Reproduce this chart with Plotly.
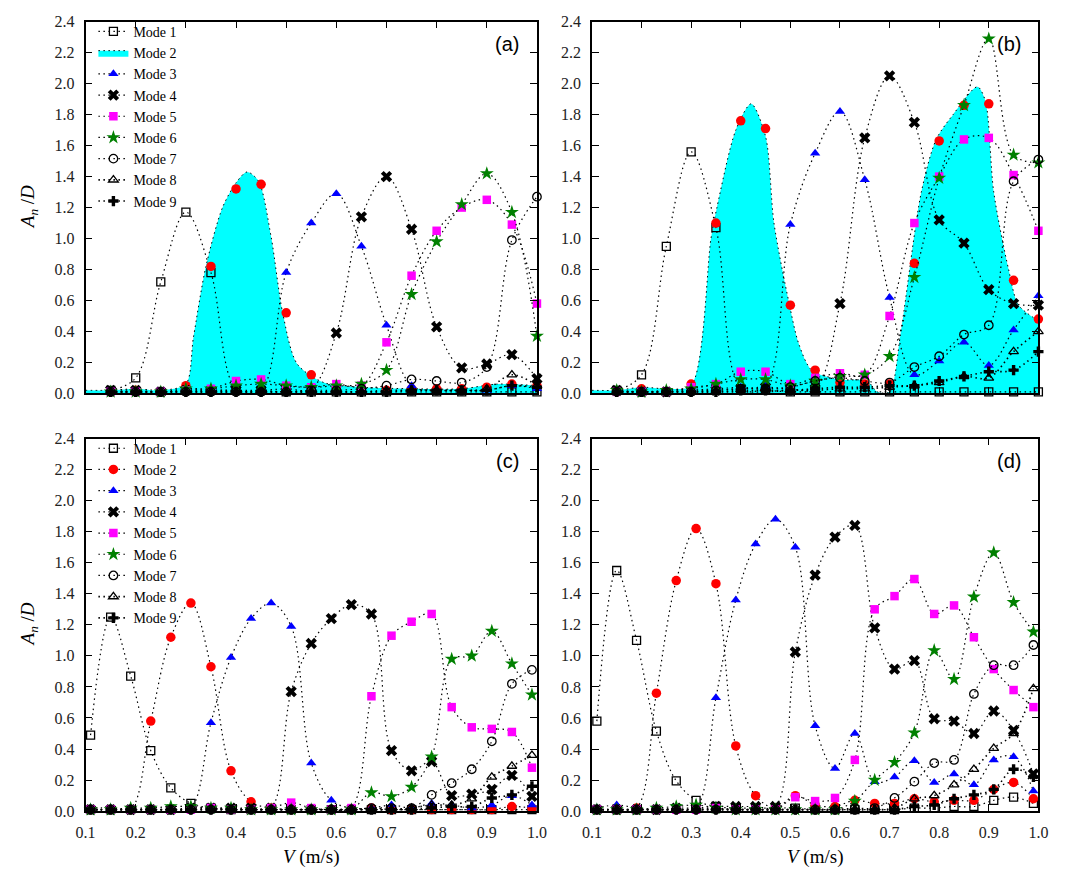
import plotly.graph_objects as go

# Flow velocity samples (m/s)
V_ab = [0.15, 0.20, 0.25, 0.30, 0.35, 0.40, 0.45, 0.50, 0.55, 0.60,
        0.65, 0.70, 0.75, 0.80, 0.85, 0.90, 0.95, 1.00]
V_cd = [0.11, 0.15, 0.19, 0.23, 0.27, 0.31, 0.35, 0.39, 0.43, 0.47, 0.51, 0.55,
        0.59, 0.63, 0.67, 0.71, 0.75, 0.79, 0.83, 0.87, 0.91, 0.95, 0.99]

# ---- panel (a): A_n/D per mode ----
a_mode1 = [0.02, 0.10, 0.72, 1.17, 0.78, 0.03, 0.02, 0.01, 0.01, 0.01, 0.01, 0.01, 0.01, 0.01, 0.01, 0.01, 0.01, 0.01]
a_mode2 = [0.01, 0.02, 0.01, 0.05, 0.82, 1.32, 1.35, 0.52, 0.12, 0.04, 0.03, 0.02, 0.03, 0.03, 0.03, 0.04, 0.06, 0.05]
a_mode3 = [0.01, 0.01, 0.01, 0.01, 0.02, 0.02, 0.02, 0.78, 1.10, 1.29, 0.95, 0.44, 0.05, 0.02, 0.02, 0.02, 0.05, 0.03]
a_mode4 = [0.02, 0.02, 0.01, 0.02, 0.02, 0.02, 0.02, 0.03, 0.03, 0.39, 1.14, 1.40, 1.06, 0.43, 0.165, 0.19, 0.25, 0.095]
a_mode5 = [0.01, 0.01, 0.01, 0.02, 0.03, 0.08, 0.09, 0.05, 0.04, 0.06, 0.05, 0.33, 0.76, 1.05, 1.20, 1.25, 1.09, 0.58]
a_mode6 = [0.01, 0.01, 0.01, 0.03, 0.03, 0.05, 0.06, 0.05, 0.04, 0.05, 0.06, 0.15, 0.64, 0.98, 1.22, 1.42, 1.17, 0.37]
a_mode7 = [0.01, 0.01, 0.01, 0.01, 0.01, 0.01, 0.01, 0.01, 0.02, 0.02, 0.03, 0.05, 0.09, 0.08, 0.07, 0.17, 0.99, 1.27]
a_mode8 = [0.01, 0.01, 0.01, 0.01, 0.01, 0.01, 0.01, 0.01, 0.01, 0.01, 0.01, 0.02, 0.02, 0.02, 0.02, 0.03, 0.12, 0.05]
a_mode9 = [0.01, 0.01, 0.01, 0.01, 0.01, 0.01, 0.01, 0.01, 0.01, 0.01, 0.01, 0.01, 0.02, 0.02, 0.02, 0.02, 0.05, 0.04]
# Mode 2 envelope (shaded)
a_fill_v = [0.10, 0.15, 0.20, 0.25, 0.30, 0.315, 0.34, 0.373, 0.40, 0.422, 0.445, 0.47, 0.493, 0.522, 0.575, 0.65, 0.75, 0.85, 0.92, 1.00]
a_fill_y = [0.02, 0.02, 0.03, 0.02, 0.06, 0.36, 0.82, 1.20, 1.36, 1.43, 1.37, 1.01, 0.52, 0.19, 0.07, 0.04, 0.03, 0.03, 0.06, 0.05]

# ---- panel (b) ----
b_mode1 = [0.02, 0.12, 0.95, 1.56, 1.07, 0.03, 0.02, 0.01, 0.01, 0.01, 0.01, 0.01, 0.01, 0.01, 0.01, 0.01, 0.01, 0.01]
b_mode2 = [0.01, 0.03, 0.01, 0.06, 1.10, 1.76, 1.71, 0.57, 0.15, 0.07, 0.06, 0.06, 0.84, 1.63, 1.86, 1.87, 0.73, 0.48]
b_mode3 = [0.01, 0.01, 0.01, 0.02, 0.03, 0.04, 0.05, 1.09, 1.55, 1.82, 1.38, 0.62, 0.12, 0.21, 0.33, 0.18, 0.41, 0.63]
b_mode4 = [0.02, 0.01, 0.01, 0.02, 0.02, 0.03, 0.04, 0.03, 0.03, 0.58, 1.65, 2.05, 1.75, 1.12, 0.97, 0.67, 0.58, 0.57]
b_mode5 = [0.01, 0.01, 0.01, 0.04, 0.06, 0.14, 0.14, 0.06, 0.10, 0.13, 0.12, 0.50, 1.10, 1.40, 1.64, 1.65, 1.41, 1.05]
b_mode6 = [0.02, 0.01, 0.02, 0.03, 0.06, 0.09, 0.09, 0.05, 0.08, 0.11, 0.12, 0.24, 0.75, 1.39, 1.86, 2.29, 1.54, 1.49]
b_mode7 = [0.01, 0.01, 0.01, 0.01, 0.02, 0.03, 0.03, 0.04, 0.08, 0.10, 0.08, 0.07, 0.17, 0.24, 0.38, 0.44, 1.37, 1.51]
b_mode8 = [0.01, 0.01, 0.01, 0.01, 0.01, 0.01, 0.01, 0.02, 0.02, 0.03, 0.03, 0.04, 0.05, 0.07, 0.11, 0.10, 0.27, 0.40]
b_mode9 = [0.01, 0.01, 0.01, 0.01, 0.01, 0.02, 0.02, 0.02, 0.03, 0.04, 0.04, 0.05, 0.05, 0.08, 0.11, 0.14, 0.15, 0.27]
b_fill_v = [0.10, 0.15, 0.20, 0.25, 0.30, 0.34, 0.352, 0.39, 0.421, 0.45, 0.467, 0.497, 0.517, 0.543, 0.60, 0.655, 0.675,
            0.70, 0.722, 0.764, 0.794, 0.828, 0.877, 0.893, 0.91, 0.94, 0.96, 1.00]
b_fill_y = [0.02, 0.02, 0.04, 0.03, 0.05, 1.00, 1.20, 1.70, 1.87, 1.66, 1.10, 0.59, 0.32, 0.15, 0.09, 0.08, 0.01,
            0.01, 0.38, 1.30, 1.64, 1.80, 1.98, 1.89, 1.30, 0.80, 0.57, 0.47]

# ---- panel (c) ----
c_mode1 = [0.49, 1.25, 0.87, 0.39, 0.15, 0.05, 0.02, 0.01, 0.01, 0.01, 0.01, 0.01, 0.01, 0.01, 0.01, 0.01, 0.01, 0.01, 0.01, 0.01, 0.01, 0.01, 0.01]
c_mode2 = [0.01, 0.01, 0.01, 0.58, 1.12, 1.34, 0.93, 0.26, 0.06, 0.02, 0.01, 0.01, 0.01, 0.01, 0.02, 0.01, 0.01, 0.01, 0.01, 0.01, 0.01, 0.03, 0.02]
c_mode3 = [0.02, 0.02, 0.01, 0.01, 0.01, 0.02, 0.57, 0.99, 1.24, 1.34, 1.19, 0.31, 0.07, 0.02, 0.02, 0.04, 0.02, 0.05, 0.04, 0.02, 0.04, 0.10, 0.04]
c_mode4 = [0.01, 0.01, 0.01, 0.01, 0.01, 0.02, 0.02, 0.02, 0.02, 0.02, 0.77, 1.08, 1.24, 1.33, 1.27, 0.39, 0.26, 0.32, 0.10, 0.11, 0.14, 0.23, 0.095]
c_mode5 = [0.01, 0.01, 0.01, 0.01, 0.01, 0.01, 0.02, 0.01, 0.01, 0.02, 0.055, 0.02, 0.01, 0.02, 0.74, 1.13, 1.22, 1.27, 0.67, 0.54, 0.53, 0.51, 0.28]
c_mode6 = [0.01, 0.01, 0.02, 0.02, 0.03, 0.03, 0.02, 0.02, 0.01, 0.01, 0.01, 0.01, 0.01, 0.01, 0.12, 0.095, 0.155, 0.35, 0.98, 1.00, 1.16, 0.95, 0.75]
c_mode7 = [0.01, 0.01, 0.01, 0.01, 0.01, 0.01, 0.01, 0.01, 0.01, 0.01, 0.01, 0.01, 0.01, 0.01, 0.02, 0.02, 0.02, 0.105, 0.18, 0.27, 0.45, 0.82, 0.91]
c_mode8 = [0.01, 0.01, 0.01, 0.01, 0.01, 0.01, 0.01, 0.01, 0.01, 0.01, 0.01, 0.01, 0.01, 0.01, 0.01, 0.01, 0.02, 0.04, 0.04, 0.08, 0.22, 0.29, 0.36]
c_mode9 = [0.01, 0.01, 0.01, 0.01, 0.01, 0.01, 0.01, 0.01, 0.01, 0.01, 0.01, 0.01, 0.01, 0.01, 0.01, 0.01, 0.01, 0.02, 0.03, 0.03, 0.085, 0.105, 0.16]

# ---- panel (d) ----
d_mode1 = [0.58, 1.55, 1.10, 0.515, 0.195, 0.07, 0.03, 0.02, 0.02, 0.02, 0.02, 0.01, 0.01, 0.01, 0.01, 0.01, 0.02, 0.02, 0.03, 0.03, 0.07, 0.09, 0.05]
d_mode2 = [0.01, 0.01, 0.02, 0.76, 1.485, 1.82, 1.465, 0.42, 0.10, 0.02, 0.10, 0.04, 0.03, 0.07, 0.05, 0.05, 0.08, 0.06, 0.07, 0.07, 0.14, 0.185, 0.08]
d_mode3 = [0.02, 0.04, 0.02, 0.01, 0.01, 0.02, 0.73, 1.36, 1.72, 1.88, 1.70, 0.55, 0.275, 0.50, 0.19, 0.22, 0.325, 0.185, 0.24, 0.17, 0.33, 0.35, 0.13]
d_mode4 = [0.01, 0.01, 0.01, 0.01, 0.02, 0.02, 0.03, 0.03, 0.03, 0.03, 1.025, 1.52, 1.765, 1.84, 1.18, 0.915, 0.97, 0.595, 0.58, 0.50, 0.645, 0.52, 0.24]
d_mode5 = [0.01, 0.01, 0.01, 0.01, 0.01, 0.01, 0.02, 0.01, 0.01, 0.01, 0.09, 0.065, 0.085, 0.33, 1.30, 1.385, 1.495, 1.27, 1.325, 1.12, 0.915, 0.78, 0.67]
d_mode6 = [0.01, 0.01, 0.01, 0.02, 0.03, 0.04, 0.02, 0.01, 0.01, 0.01, 0.01, 0.01, 0.01, 0.065, 0.20, 0.315, 0.505, 1.035, 0.85, 1.38, 1.665, 1.345, 1.155]
d_mode7 = [0.01, 0.01, 0.01, 0.01, 0.01, 0.01, 0.01, 0.01, 0.01, 0.01, 0.01, 0.01, 0.01, 0.02, 0.02, 0.085, 0.19, 0.31, 0.33, 0.755, 0.94, 0.94, 1.07]
d_mode8 = [0.01, 0.01, 0.01, 0.01, 0.01, 0.01, 0.01, 0.01, 0.01, 0.01, 0.01, 0.01, 0.01, 0.01, 0.01, 0.02, 0.08, 0.10, 0.17, 0.27, 0.405, 0.50, 0.79]
d_mode9 = [0.01, 0.01, 0.01, 0.01, 0.01, 0.01, 0.01, 0.01, 0.01, 0.01, 0.01, 0.01, 0.01, 0.01, 0.01, 0.01, 0.03, 0.04, 0.08, 0.105, 0.14, 0.27, 0.22]

MODE_NAMES = ["Mode 1", "Mode 2", "Mode 3", "Mode 4", "Mode 5", "Mode 6", "Mode 7", "Mode 8", "Mode 9"]

W, H = 1069, 879
SERIF = "Liberation Serif"
SANS = "Liberation Sans"

# marker look for each mode
STYLES = [
    dict(symbol="square-open", color="black", size=8, line=dict(width=1.3, color="black")),
    dict(symbol="circle", color="#ff0000", size=9.5),
    dict(symbol="triangle-up", color="#0000ff", size=9),
    dict(symbol="x", color="black", size=10),
    dict(symbol="square", color="#ff00ff", size=8.5),
    dict(symbol="star", color="#008000", size=10.5),
    dict(symbol="circle-open", color="black", size=8.5, line=dict(width=1.3, color="black")),
    dict(symbol="triangle-up-open", color="black", size=8.5, line=dict(width=1.3, color="black")),
    dict(symbol="cross", color="black", size=8.5),
]
DOT = "1.5px,3.5px"

panels = [
    dict(key="a", v=V_ab, modes=[a_mode1, a_mode2, a_mode3, a_mode4, a_mode5, a_mode6, a_mode7, a_mode8, a_mode9],
         fill=(a_fill_v, a_fill_y), xpx=(77, 537), ypx=(14, 393), legend="legend", xlabels=False),
    dict(key="b", v=V_ab, modes=[b_mode1, b_mode2, b_mode3, b_mode4, b_mode5, b_mode6, b_mode7, b_mode8, b_mode9],
         fill=(b_fill_v, b_fill_y), xpx=(593, 1048), ypx=(14, 393), legend=None, xlabels=False),
    dict(key="c", v=V_cd, modes=[c_mode1, c_mode2, c_mode3, c_mode4, c_mode5, c_mode6, c_mode7, c_mode8, c_mode9],
         fill=None, xpx=(77, 537), ypx=(439, 819), legend="legend2", xlabels=True),
    dict(key="d", v=V_cd, modes=[d_mode1, d_mode2, d_mode3, d_mode4, d_mode5, d_mode6, d_mode7, d_mode8, d_mode9],
         fill=None, xpx=(593, 1048), ypx=(439, 819), legend=None, xlabels=True),
]

fig = go.Figure()
layout = {}
annotations = []

for i, p in enumerate(panels):
    n = "" if i == 0 else str(i + 1)
    xa, ya = "x" + n, "y" + n
    show = p["legend"] is not None
    leg = p["legend"] or "legend"

    if p["fill"] is not None:
        fv, fy = p["fill"]
        fig.add_trace(go.Scatter(
            x=fv, y=fy, xaxis=xa, yaxis=ya, mode="lines", name="Mode 2",
            fill="tozeroy", fillcolor="#00ffff",
            line=dict(color="black", width=1, dash=DOT, shape="spline", smoothing=0.8),
            showlegend=show, legend=leg, legendrank=2, hoverinfo="skip"))

    for m, (vals, st) in enumerate(zip(p["modes"], STYLES)):
        lw = 1.6 if m >= 7 else 1.2
        shaded = p["fill"] is not None and m == 1
        fig.add_trace(go.Scatter(
            x=p["v"], y=vals, xaxis=xa, yaxis=ya,
            mode="markers" if shaded else "lines+markers",
            name=MODE_NAMES[m], marker=st,
            line=dict(color="black", width=lw, dash=DOT, shape="spline", smoothing=1.0),
            cliponaxis=False, showlegend=show and not shaded, legend=leg,
            legendrank=m + 1))

    xdom = [p["xpx"][0] / W, p["xpx"][1] / W]
    ydom = [1 - p["ypx"][1] / H, 1 - p["ypx"][0] / H]
    axis_common = dict(showline=True, linecolor="black", linewidth=1.5, mirror="ticks",
                       ticks="inside", ticklen=7, tickwidth=1.2, tickcolor="black",
                       showgrid=False, zeroline=False,
                       tickfont=dict(family=SERIF, size=16, color="#222"))
    layout["xaxis" + n] = dict(domain=xdom, range=[0.1, 1.0], dtick=0.1, tick0=0.1,
                               tickformat=".1f", showticklabels=p["xlabels"],
                               anchor=ya, ticklabelstandoff=6, **axis_common)
    layout["yaxis" + n] = dict(domain=ydom, range=[0, 2.4], dtick=0.2, tick0=0,
                               tickformat=".1f", anchor=xa, ticklabelstandoff=6, **axis_common)

    annotations.append(dict(text="(%s)" % p["key"], xref="paper", yref="paper",
                            x=(p["xpx"][1] - 16) / W, y=1 - (p["ypx"][0] + 23) / H,
                            xanchor="right", yanchor="middle", showarrow=False,
                            font=dict(family=SANS, size=20, color="black")))

# axis titles
for cy in (203.5, 629):
    annotations.append(dict(text="<i>A</i><sub><i>n</i></sub> /<i>D</i>", xref="paper", yref="paper",
                            x=19 / W, y=1 - cy / H, textangle=-90, showarrow=False,
                            xanchor="center", yanchor="middle",
                            font=dict(family=SERIF, size=19, color="black")))
for cx in (307, 820):
    annotations.append(dict(text="<i>V</i> (m/s)", xref="paper", yref="paper",
                            x=cx / W, y=1 - 866 / H, showarrow=False,
                            xanchor="center", yanchor="middle",
                            font=dict(family=SERIF, size=19, color="black")))

legend_style = dict(font=dict(family=SERIF, size=14, color="black"), bgcolor="rgba(0,0,0,0)",
                    borderwidth=0, xanchor="left", yanchor="top", tracegroupgap=0,
                    itemwidth=30, traceorder="normal")

fig.update_layout(
    width=W, height=879, margin=dict(l=0, r=0, t=0, b=0),
    paper_bgcolor="white", plot_bgcolor="white",
    legend=dict(x=85 / W, y=1 - 8 / H, **legend_style),
    legend2=dict(x=85 / W, y=1 - 433 / H, **legend_style),
    annotations=annotations, hovermode=False,
    **layout,
)

fig.write_html("out.html")
